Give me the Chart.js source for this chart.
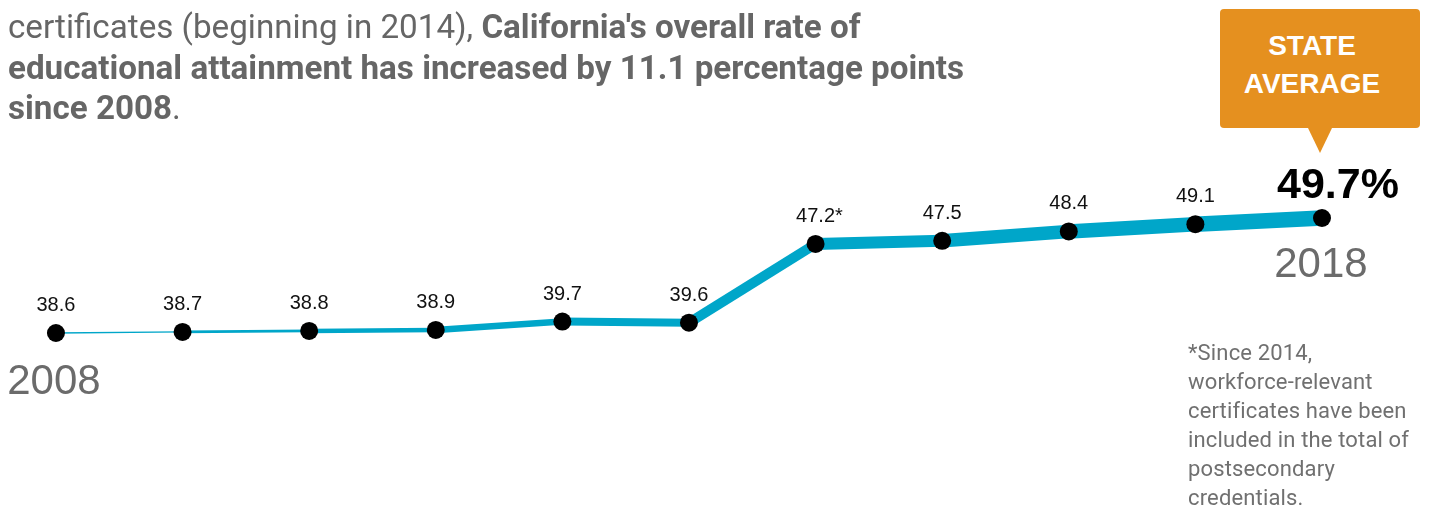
<!DOCTYPE html>
<html>
<head>
<meta charset="utf-8">
<script src="https://cdn.jsdelivr.net/npm/chart.js@4.4.1/dist/chart.umd.min.js"></script>
<style>
  html, body { margin: 0; padding: 0; background: #fff; }
  #wrap { position: relative; width: 1432px; height: 508px; overflow: hidden; }
  #chart { position: absolute; left: 0; top: 0; }
  #header {
    position: absolute; left: 8px; top: 7px;
    font-family: Roboto, "Noto Sans", sans-serif; font-size: 33.2px; line-height: 40.5px;
    color: #666; white-space: nowrap;
  }
  #header b { font-weight: 700; }
  #callout {
    position: absolute; left: 1220px; top: 9px; width: 200px; height: 119px;
    background: #E5901F; border-radius: 4px; box-sizing: border-box;
    padding-top: 18px; padding-right: 16px;
    font-family: "Liberation Sans", Arial, sans-serif; font-weight: 700; font-size: 28px;
    line-height: 37.5px; color: #fff; text-align: center;
  }
  #callout:after {
    content: ""; position: absolute; left: 88px; top: 119px;
    border-left: 12px solid transparent; border-right: 12px solid transparent;
    border-top: 25px solid #E5901F;
  }
  #note {
    position: absolute; left: 1188px; top: 338px;
    font-family: Roboto, "Noto Sans", sans-serif; font-size: 22px; line-height: 29px;
    letter-spacing: 0.15px; color: #707070; white-space: nowrap;
  }
</style>
</head>
<body>
<div id="wrap">
  <canvas id="chart" width="1432" height="508"></canvas>
  <div id="header">certificates (beginning in 2014), <b>California's overall rate of</b><br><b>educational attainment has increased by 11.1 percentage points</b><br><b>since 2008</b>.</div>
  <div id="callout">STATE<br>AVERAGE</div>
  <div id="note">*Since 2014,<br>workforce-relevant<br>certificates have been<br>included in the total of<br>postsecondary<br>credentials.</div>
</div>
<script>
// ---- data ----
const years = [2008, 2009, 2010, 2011, 2012, 2013, 2014, 2015, 2016, 2017, 2018];
const rates = [38.6, 38.7, 38.8, 38.9, 39.7, 39.6, 47.2, 47.5, 48.4, 49.1, 49.7];
const labelMarks = ["", "", "", "", "", "", "*", "", "", "", ""];

// ---- style ----
const lineColor = "#00A6C9";
const segmentWidths = [1.3, 2.8, 4.5, 6.5, 8, 10, 12, 13.5, 14.5, 15.5];

const labelPlugin = {
  id: "valueLabels",
  afterDatasetsDraw(chart) {
    const ctx = chart.ctx;
    const pts = chart.getDatasetMeta(0).data;
    const last = pts.length - 1;
    ctx.save();
    pts.forEach((p, i) => {
      const txt = rates[i].toFixed(1);
      if (i === last) {
        ctx.font = "700 43px 'Liberation Sans', Arial, sans-serif";
        ctx.fillStyle = "#000";
        ctx.textAlign = "center";
        ctx.textBaseline = "alphabetic";
        ctx.fillText(txt + "%", p.x + 16, p.y - 20);
      } else {
        ctx.font = "20px 'Liberation Sans', Arial, sans-serif";
        ctx.fillStyle = "#111";
        ctx.textBaseline = "alphabetic";
        const w = ctx.measureText(txt).width;
        ctx.textAlign = "left";
        ctx.fillText(txt + labelMarks[i], p.x - w / 2, p.y - 22);
      }
    });
    // first and last year labels
    ctx.font = "42px 'Liberation Sans', Arial, sans-serif";
    ctx.fillStyle = "#6b6b6b";
    ctx.textAlign = "center";
    ctx.fillText(String(years[0]), pts[0].x - 2, pts[0].y + 61);
    ctx.fillText(String(years[last]), pts[last].x - 1, pts[last].y + 59);
    ctx.restore();
  }
};

new Chart(document.getElementById("chart"), {
  type: "line",
  data: {
    datasets: [{
      data: years.map((y, i) => ({ x: y, y: rates[i] })),
      borderColor: lineColor,
      borderWidth: 8,
      segment: { borderWidth: c => segmentWidths[c.p0DataIndex] },
      pointRadius: 9,
      pointBackgroundColor: "#000",
      pointBorderWidth: 0,
      tension: 0
    }]
  },
  options: {
    responsive: false,
    animation: false,
    devicePixelRatio: 1,
    events: [],
    layout: { padding: 0, autoPadding: false },
    plugins: { legend: { display: false }, tooltip: { enabled: false } },
    scales: {
      x: { type: "linear", display: false, min: 2007.558, max: 2018.869 },
      y: { type: "linear", display: false, min: 21.71, max: 70.74 }
    }
  },
  plugins: [labelPlugin]
});
</script>
</body>
</html>
